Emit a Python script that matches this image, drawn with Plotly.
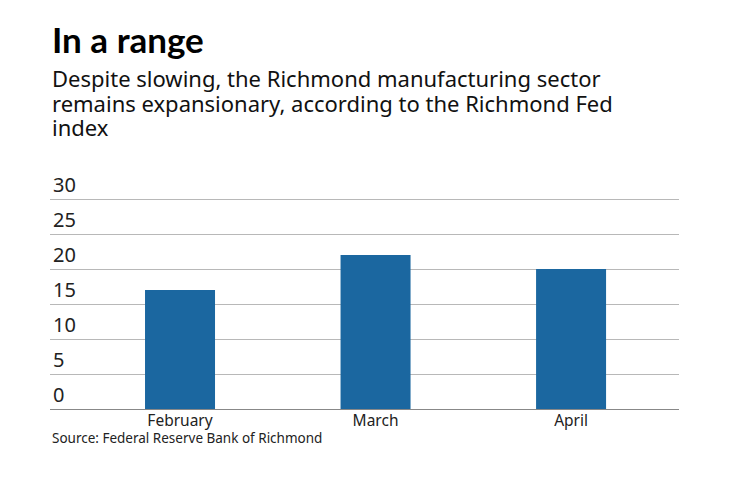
import plotly.graph_objects as go

categories = ["February", "March", "April"]
values = [17, 22, 20]
y_ticks = [0, 5, 10, 15, 20, 25, 30]

title_text = "In a range"
subtitle_lines = [
    "Despite slowing, the Richmond manufacturing sector",
    "remains expansionary, according to the Richmond Fed",
    "index",
]
source_text = "Source: Federal Reserve Bank of Richmond"

OFF = 8  # page body margin
W, H = 740 - 2 * OFF, 482 - 2 * OFF
Y_TOP = 36
ML, MR, MB = 42, 53, 65
MT = 191 - (Y_TOP - 30) * 7
plot_h = H - MT - MB

def py(ref_pix):
    return (H - MB - (ref_pix - OFF)) / plot_h

FONT = "Noto Sans"

fig = go.Figure(go.Bar(
    x=list(range(len(categories))),
    y=values,
    width=0.358,
    marker=dict(color="#1b67a0", line=dict(width=0)),
))

fig.update_layout(
    width=W, height=H,
    margin=dict(l=ML, r=MR, t=MT, b=MB, pad=0),
    paper_bgcolor="white", plot_bgcolor="white",
    showlegend=False,
    font=dict(family=FONT, color="#111111"),
    xaxis=dict(
        range=[-0.665, 2.552],
        tickmode="array",
        tickvals=list(range(len(categories))),
        ticktext=categories,
        showgrid=False, zeroline=False, showline=False,
        ticks="", tickfont=dict(size=15.5, color="#222222"),
    ),
    yaxis=dict(
        range=[0, Y_TOP],
        tickmode="array",
        tickvals=y_ticks,
        ticktext=[str(v) for v in y_ticks],
        ticklabelposition="inside top",
        showgrid=True, gridcolor="#b8b8b8", gridwidth=1,
        zeroline=True, zerolinecolor="#888888", zerolinewidth=1,
        showline=False, ticks="",
        tickfont=dict(size=20, color="#222222"),
    ),
)

annotations = [
    dict(text="<b>" + title_text + "</b>", x=0, y=py(39), xref="paper", yref="paper",
         xanchor="left", yanchor="middle", showarrow=False,
         font=dict(size=35, color="#000000", family="Lato")),
]
for i, line in enumerate(subtitle_lines):
    annotations.append(dict(text=line, x=0, y=py(78 + 24.5 * i), xref="paper", yref="paper",
                            xanchor="left", yanchor="middle", showarrow=False,
                            font=dict(size=22, color="#111111", family=FONT)))
annotations.append(dict(text=source_text, x=0, y=py(438), xref="paper", yref="paper",
                        xanchor="left", yanchor="middle", showarrow=False,
                        font=dict(size=13.5, color="#222222", family=FONT)))
fig.update_layout(annotations=annotations)

fig.write_html("out.html")
